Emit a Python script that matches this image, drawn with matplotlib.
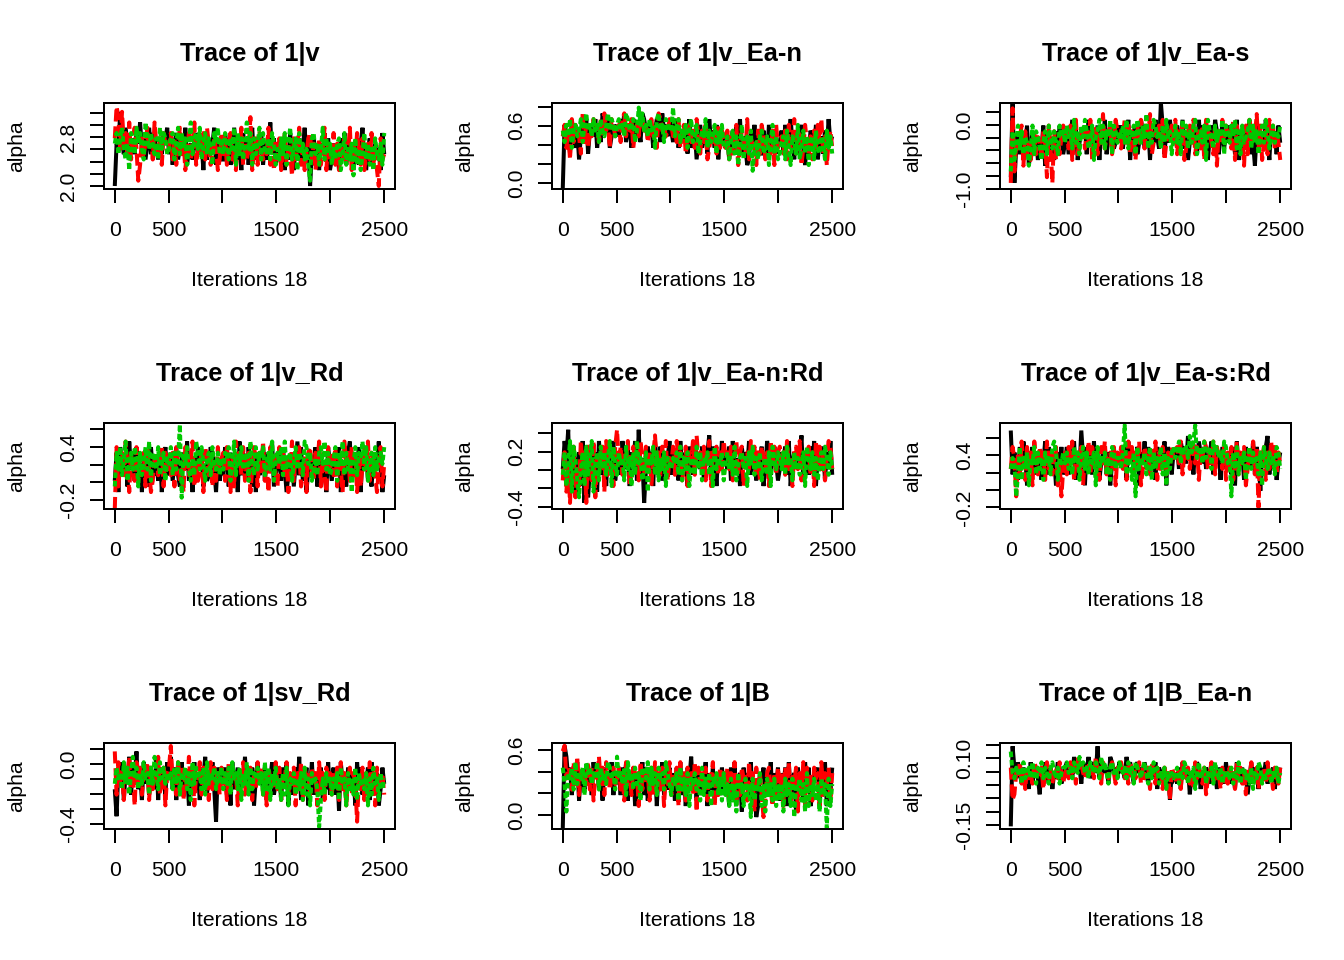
import numpy as np
import matplotlib
matplotlib.use("Agg")
import matplotlib.pyplot as plt

plt.rcParams['font.family'] = ['Liberation Sans', 'DejaVu Sans']

N_ITER = 2500
TITLES = ["Trace of 1|v", "Trace of 1|v_Ea-n", "Trace of 1|v_Ea-s",
          "Trace of 1|v_Rd", "Trace of 1|v_Ea-n:Rd", "Trace of 1|v_Ea-s:Rd",
          "Trace of 1|sv_Rd", "Trace of 1|B", "Trace of 1|B_Ea-n"]
XLABEL = "Iterations 18"
YLABEL = "alpha"
XTICKS = [0, 500, 1000, 1500, 2000, 2500]
XTICKLABELS = ["0", "500", "", "1500", "", "2500"]

# value of hex level 0 and level f in the traces below, per panel
TRACE_LO = [2.0, -0.05, -1.0, -0.3, -0.42, -0.2, -0.42, -0.12, -0.155]
TRACE_HI = [3.3, 0.85, 0.35, 0.65, 0.5, 0.75, 0.12, 0.64, 0.145]

YLIMS = [(1.946, 3.353), (-0.063, 0.835), (-1.01, 0.339), (-0.304, 0.665),
         (-0.428, 0.509), (-0.223, 0.77), (-0.435, 0.138), (-0.132, 0.662),
         (-0.166, 0.156)]
YTICKS = [[2.0, 2.2, 2.4, 2.6, 2.8, 3.0, 3.2],
          [0.0, 0.2, 0.4, 0.6, 0.8],
          [-1.0, -0.8, -0.6, -0.4, -0.2, 0.0, 0.2],
          [-0.2, 0.0, 0.2, 0.4, 0.6],
          [-0.4, -0.2, 0.0, 0.2, 0.4],
          [-0.2, 0.0, 0.2, 0.4, 0.6],
          [-0.4, -0.3, -0.2, -0.1, 0.0, 0.1],
          [0.0, 0.2, 0.4, 0.6],
          [-0.15, -0.10, -0.05, 0.0, 0.05, 0.10, 0.15]]
YTICKLABELS = [["2.0", "", "", "", "2.8", "", ""],
               ["0.0", "", "", "0.6", ""],
               ["-1.0", "", "", "", "", "0.0", ""],
               ["-0.2", "", "", "0.4", ""],
               ["-0.4", "", "", "0.2", ""],
               ["-0.2", "", "", "0.4", ""],
               ["-0.4", "", "", "", "0.0", ""],
               ["0.0", "", "", "0.6"],
               ["-0.15", "", "", "", "", "0.10", ""]]

# chains (black, red, green), each a string of hex levels
trace_v = [
    "087e96b85796a8c7958b6a97586a9b" "6948a5796b47859a6783a5968b4795" "5a7946b8573a6948b5796a4857c694"
    "6849375a6385947b5806947386a593" "5847396a485736948b5379468573a6",
    "9fd7e8a6c59b714968b7a5c8694a87" "7a5948b6937a58c4796a5b8469735a" "6948a57396b4857d3694a8576b4938"
    "5937a4862958b47369a5836947b385" "6a48375946b385a7493685a4730956",
    "8a69b7583a96b8a75c97a8695b7a96" "79a58b6a7948c69a7b58a6974a8b69" "6a8597b4a6958c7a4968b5a7695a84"
    "7596a48b5793a6857419a6847b5968" "4758936a4758294736a5847396584a",
]
trace_v_ea_n = [
    "0b8a6c97a59b8c6ab9c7a8dbac79ba" "b9cad8ab7cb9a8dcab9b7acb8dab9c" "a8cb79a8b6c79a58b7a96c8a7b59a8"
    "7958a6b8c69745a8b7966a85b79a68" "8a6b79c85a69b7486a97b5896a7c89",
    "9b7a5c8ba96d8b7a9cab8c9dab7cb9" "ab8cd9bac7ab9dcab8ac9b7dcab9ac" "b9a8c7ab69b8a7c96a8b5798a6b7a9"
    "7a5968b47a86c59784a6b95876a4b7" "896a5b78c69a47b8695a7b8c6948a7",
    "a8b9c7ab9ac8bdab9cab8ca9bdacb9" "bcab9dcabc8aebdab9cab7cdab8cba" "ae9bc8a9b7ac89b68a9c7a89b6a8b7"
    "7958a6947b5896a37859a67948b695" "6895a74986b57a694895a76985a796",
]
trace_v_ea_s = [
    "2f17a6958b47a69587b4a6985a7b96" "8a69c7b58a9b6c8a79b5a8c69ba78b" "9b7a8c59ab68ca79b5a8c97fb6a8c9"
    "a8b69c7a58ba96c8b7a59b8ca69b7a" "8b9a6c58a7b9c684ab9a7c85b9a6b8",
    "1e3879b4a6857a6986a82b71a5869b" "9a7b58c69ab7a8c59b6a8d7a9b68ca" "a79c8b6a95b8ca7b9d68a9b7c58a9b"
    "8c6a9b57ab8c69a7b5c9a86b4a8c9b" "9a7c5b8a94b6c8a9d7b58a6c9b7a85",
    "3a58b7a69847b6a9758a6b97a86b9a" "8b9a7c8a6b9ca78b59ac8b7a9c6ba8" "a9b8c7a9b6ca8b9d7a8cb9a7b8c9a6"
    "9b8a6c9b7a8bc69a8b5ca97b8a9c6b" "a8b9c7a6b89ac7b8a69b8ca79b8a9b",
]
trace_v_rd = [
    "5a3b8694c7a5b68397a4b7685a39b6" "7a58b649a7c58396b7a4856ba73958" "6b94a7583c6a85b7493a68b5a79c46"
    "8a5b7369a48c6b5937a86b4a9573b8" "59a6b3874ac5968b3a7b5649a8c736",
    "0b49a6c83a75b968a4b7359a68b4a7" "96a4b8573ba69c4857a3b96a485b79" "a5b7394c8a6b58a37b94a6c583b7a6"
    "4b8a6937c5a8b4693ab75a8c4963b7" "a6b4973c8a5b6a3948b7c5a9637b48",
    "4a7b69c58a7b94a68b7c5a97b68a59" "8b6a79f2a8b7596ca7b859a6b87a69" "7a9b58c6a8b79a5c86b7a9b68a7c59"
    "a8b6c79a58b7a96cb8a5796ab8c7a6" "79b5a8c6a7938b6a9c7b58a6b79a8b",
]
trace_v_ea_n_rd = [
    "7c9e35b28a4c1927b5a3c86a4b79c5" "8a6c97b4a8c5e6917b9a4c86b5a79c" "6b8a5c79a4b86c9a7b58ad6b94a7c8"
    "a7b5c8694b8a7c6b95a8b47ca69b85" "7a9b6c48a7b9d58a6b7c49a8b5a7c6",
    "5a3819b274c6a1b85c29a7b3c6a84b" "e8b6a9c47b8a5c96b7a49d8a6b7c59" "8b6c9a57b4a8c6d9a7b58c4a9b6a7c"
    "9a7b58c6ab49a7c8b6a5b97a4c8b6a" "b8a6c794ab7c58a9b6a4c8b7a59cb7",
    "6a48c3b9527a4b69c38a5b7a69c4b8" "6a895b794a6c8957a398b6a597a498" "798a6b597a4896b7a598a694b798a5"
    "8a796b589a794a8b697a5896a4b97a" "97a6b895a7968a4b97a6958a7b96a7",
]
trace_v_ea_s_rd = [
    "e6a85b7c94a8b6a7958c6b7a94a8b6" "8b6a9c5a7e94b8a6c7958ab6a48b7a" "9a7b5c8a69b4a8c7b6a95b8a7c4b96"
    "a9b7cab8d9a6b9ca8b79ac6b8a5b97" "8a6b4c79a5b8a7c6b93a8bd6a7b58a",
    "7b92a6c85b7a4c96b8a5c7a69b4827" "a6b8c59a7b4a8c6b97a5b8c69a7b4a" "8b7a5c9b6a8c47b9a6b8c5a7b96a8b"
    "9ab8c6a9b7ac8b5a9cb7a8c6b9a7b5" "a7b58c6a9b47a8c6b0a9b5a7c8b6a8",
    "79826b597a498b6a795a896bca598a" "8a796b8a59b7a698a4b798a695ba79" "97af6895a2b798a69b5a798b6a497a"
    "b9ac8bab9dacf9ab8c9ab7cab9a8cb" "892a7b698a59b7a896a4b97a896ba7",
]
trace_sv_rd = [
    "72b9c5a8d6b9e7a5c8b69a7d5b8a6c" "9d7b5a8c69a4b8c7a5b9d6a8c71b8a" "8b6a4c79b5a8d7a6b49c8a7b5a9c68"
    "7a5b8c4a69b7d5a8b47c69a8b5a7c6" "9b6a3c8a5b79a4c7b6a8b5c69a47b8",
    "e6c8a5b9d7a4c8b6a9c5b7a8d69b4a" "bf8a6c9b5a7d8b4a9c6b8a5c7b9a6b" "8a5c7b9a4b8c6a9b5a7c8b6a4b9a7c"
    "7b5a9c6a8b4a7c5b9a6b8a4c7a5b9a" "6a8b5c7a49b6a8197b5a6c8a4b79a6",
    "8b9a7c8b6ad9b7a8c9a6b8da7c9b8a" "9a7b8c6a9b7a5c8b9a7b6c8a9b7a8b" "7a8b6c9a7b5a8c6b7a9b8a6c7b5a8b"
    "795a6b498a697a5b694a8970596a89" "697a5b894a796b5a897a496b895a79",
]
trace_b = [
    "0fd9b6a8c5a97b8a6c9b7a5b8a9c6a" "8a6b7c5a9b47a8c6b5a79b4a8c6a7b" "7a5b8c6a4b9d7a5b6a8c4a7b59a6b8"
    "6a4b7c59a3b8a6c5724a9b6a8c5a7b" "5a7b4c69a3b8a5c7b46a9b5a8c4a7b",
    "ef9ba7c8d6b9a8c7b5a9d8b6ca79b8" "9b7a5c8a6b9a4c7b8a5b6c9a7b4a8c" "6a8b4c7a5b9a6c3b8a7b5a9c4a6b8a"
    "7b5a8c4a6b9a5c7a3b8a625ab74a6b" "6a4b7c5a8b3a6c4b7a5b9a4c6a8b5a",
    "b83a9b7c8a9b6cab8a9c7b9a8cb9a7" "d9a8b6c9a7b8a5ba9c7b8a6b9a7ca8" "698a5b796a498a795b697a498a695a"
    "6849583a78496829587a4839685948" "583968492879583a48695839680948",
]
trace_b_ea_n = [
    "0fb9ca8b9a7c8ba96b9ca8b7a9cb8a" "bcab9dacb8cbad9bcaf9bcab8dcab9" "cab9dbca8bcab9ca8b9ac7ba9b8a5a"
    "9a8b7ca9b6a98cb7a9ba8c9a7b9a8c" "9b8a7c9ab8a69c8ba7b9ac8a9b7a9b",
    "b56a9c8a7b9a8cba9b7ac9b8ab9ca8" "ab9cab8dbca9bcab9dab8cba9bca8b" "bca9b8cab9ac8b9ab7ca8b9a7b9a5b"
    "a98b7ca9b8a7c9ba8b69ac8b9a7b8a" "8b9a7c9b8a6b9ca8b7a9b8c9a7ba8b",
    "ea9bab8c9ab9ca8bac9ba8bca9b8ab" "bcab9cbadbcab9cbacb9dbca8bcab9" "cbab9cab8cba9bca8b9cab8a9b7a9a"
    "9ab8a9cb8a9b7ac9ab8a9b8ca9b8a9" "a9b8a9c8ab9a8b7a9cb8a9ab8a9b8a",
]

PANEL_TRACES = [trace_v, trace_v_ea_n, trace_v_ea_s, trace_v_rd, trace_v_ea_n_rd,
                trace_v_ea_s_rd, trace_sv_rd, trace_b, trace_b_ea_n]

CHAIN_COLORS = ["black", "#FF0000", "#00C800"]
CHAIN_STYLES = ["-", (0, (3, 1.2)), (0, (1.4, 0.7))]


def decode(levels, lo, hi):
    d = np.array([int(c, 16) for c in levels], dtype=float)
    return lo + d * (hi - lo) / 15.0


W, H = 1344, 960
COL_X = [104, 552, 1000]
ROW_Y = [103.3, 423.3, 743.3]
BOX_W, BOX_H = 291, 86
LW = 0.75
TRACE_LW = 1.5

fig = plt.figure(figsize=(W / 192, H / 192), dpi=192)

for i, title in enumerate(TITLES):
    r, c = divmod(i, 3)
    ax = fig.add_axes([COL_X[c] / W, 1 - (ROW_Y[r] + BOX_H) / H, BOX_W / W, BOX_H / H])
    for chain, color, ls in zip(PANEL_TRACES[i], CHAIN_COLORS, CHAIN_STYLES):
        y = decode(chain, TRACE_LO[i], TRACE_HI[i])
        x = np.linspace(1, N_ITER, len(y))
        ax.plot(x, y, color=color, linestyle=ls, lw=TRACE_LW,
                solid_capstyle="butt", dash_capstyle="butt", solid_joinstyle="miter")
    pad = 0.04 * (N_ITER - 1)
    ax.set_xlim(1 - pad, N_ITER + pad)
    ax.set_ylim(*YLIMS[i])
    ax.set_xticks(XTICKS, XTICKLABELS)
    ax.set_yticks(YTICKS[i], YTICKLABELS[i])
    ax.tick_params(direction="out", length=5.25, width=LW, labelsize=7.92)
    ax.tick_params(axis="x", pad=6.8)
    ax.tick_params(axis="y", pad=4.5, labelrotation=90)
    for lab in ax.get_yticklabels():
        lab.set_va("center")
    for sp in ax.spines.values():
        sp.set_linewidth(LW)
    ax.text(0.5, 1 + 49.3 / BOX_H, title, transform=ax.transAxes,
            ha="center", va="center", fontsize=9.5, fontweight="bold")
    ax.text(0.5, -(281 - 189.3) / BOX_H, XLABEL, transform=ax.transAxes,
            ha="center", va="center", fontsize=7.92)
    ax.text(-(104 - 17) / BOX_W, 0.5, YLABEL, transform=ax.transAxes, rotation=90,
            ha="center", va="center", fontsize=7.92)

fig.savefig("out.png", dpi=192)
plt.close(fig)
